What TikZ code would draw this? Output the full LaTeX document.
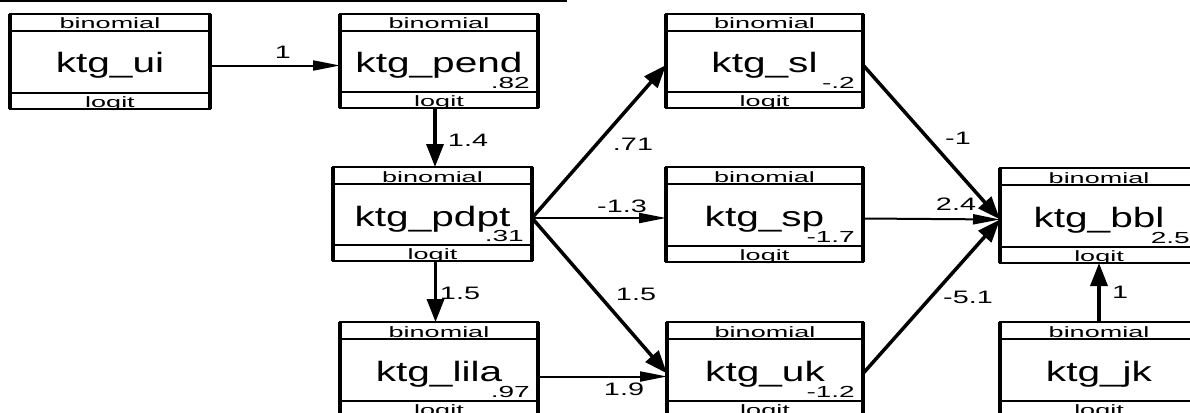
\documentclass[tikz,border=0pt]{standalone}
\usepackage{fontspec}
\setmainfont{Liberation Sans}
\newfontfamily\hdrfont{Liberation Sans}[FakeStretch=1.8]
\newfontfamily\icptfont{Liberation Sans}[FakeStretch=1.75]
\newfontfamily\bigfont{Liberation Sans}[FakeStretch=1.45]
\newfontfamily\coeffont{Liberation Sans}[FakeStretch=1.6]
\usetikzlibrary{arrows.meta,calc}

\tikzset{
  varbox/.style={rectangle, draw, line width=2.5pt, inner sep=0pt, outer sep=0pt, fill=white},
  boxside/.style={line width=4.5pt},
  divider/.style={line width=2pt},
  hdr/.style={inner sep=0pt, font=\hdrfont\fontsize{15}{17}\selectfont},
  bigname/.style={inner sep=0pt, font=\bigfont\fontsize{28}{30}\selectfont},
  icpt/.style={inner sep=0pt, font=\icptfont\fontsize{16}{18}\selectfont},
  coef/.style={inner sep=0pt, font=\coeffont\fontsize{18}{20}\selectfont},
  thinpath/.style={line width=2pt, -{Triangle[length=27pt,width=10pt]}},
  thickpath/.style={line width=3.5pt, -{Triangle[length=23pt,width=17pt]}},
}

% name, centre x, top y, width, height, variable, intercept
\newcommand\semvar[7]{%
  \node[varbox, minimum width=#4pt, minimum height=#5pt, anchor=north] (#1) at (#2,#3) {};
  \draw[boxside] (#1.north west) -- (#1.south west);
  \draw[boxside] (#1.north east) -- (#1.south east);
  \draw[divider] ([yshift=-17pt]#1.north west) -- ([yshift=-17pt]#1.north east);
  \draw[divider] ([yshift=16pt]#1.south west) -- ([yshift=16pt]#1.south east);
  \node[hdr, anchor=base] (#1-h) at ([yshift=-15pt]#1.north) {binomial};
  \node[hdr, anchor=base] (#1-f) at ([yshift=2pt]#1.south) {logit};
  \node[bigname, anchor=base] (#1-t) at ([yshift=-59pt]#1.north) {#6};
  \node[icpt, anchor=base east] (#1-i) at ([xshift=-8pt,yshift=20pt]#1.south east) {#7};
  \coordinate (#1-l) at ([yshift=-4pt]#1.west);
  \coordinate (#1-r) at ([yshift=-4pt]#1.east);
}

\begin{document}
\begin{tikzpicture}[x=1pt,y=-1pt]
\useasboundingbox (0,0) rectangle (1190,412);
\clip (0,0) rectangle (1190,412);
\fill[white] (0,0) rectangle (1190,412);

% rule along the top edge
\draw[line width=2pt] (0,1) -- (567,1);

% variables
\semvar{ui}{110}{14}{200}{95}{ktg\_ui}{}
\semvar{pend}{439}{14}{198}{94}{ktg\_pend}{.82}
\semvar{sl}{764.5}{14}{197}{94}{ktg\_sl}{-.2}
\semvar{pdpt}{432.5}{167}{199}{94}{ktg\_pdpt}{.31}
\semvar{sp}{764.5}{167}{197}{95}{ktg\_sp}{-1.7}
\semvar{bbl}{1099}{168}{198}{95}{ktg\_bbl}{2.5}
\semvar{lila}{439}{322}{198}{95}{ktg\_lila}{.97}
\semvar{uk}{765}{322}{196}{95}{ktg\_uk}{-1.2}
\semvar{jk}{1099}{322}{198}{95}{ktg\_jk}{}

% paths
\draw[thinpath] (ui-r) -- (ui-r -| pend.west);
\draw[thickpath] ([xshift=-4pt]pend.south) -- ([xshift=-4pt]pend.south |- pdpt.north);
\draw[thickpath] (pdpt-r) -- (sl-l);
\draw[thinpath] (pdpt-r) -- (pdpt-r -| sp.west);
\draw[thickpath] (pdpt-r) -- (uk-l);
\draw[thickpath] ([xshift=3pt]pdpt.south) -- ([xshift=3pt]pdpt.south |- lila.north);
\draw[thinpath] ([yshift=-3pt]lila-r) -- ([yshift=-3pt]lila-r -| uk.west);
\draw[thickpath] (sl-r) -- (bbl-l);
\draw[thinpath] (sp-r) -- (bbl-l);
\draw[thickpath] (uk-r) -- (bbl-l);
\draw[thickpath] (jk.north) -- (bbl.south);

% coefficients
\node[coef] (c-ui-pend) at (283,52) {1};
\node[coef] (c-pend-pdpt) at (468,140) {1.4};
\node[coef] (c-pdpt-sl) at (633,144) {.71};
\node[coef] (c-pdpt-sp) at (622,206) {-1.3};
\node[coef] (c-pdpt-lila) at (460,293) {1.5};
\node[coef] (c-pdpt-uk) at (636,294) {1.5};
\node[coef] (c-lila-uk) at (624,389) {1.9};
\node[coef] (c-sl-bbl) at (958,138) {-1};
\node[coef] (c-sp-bbl) at (956,204) {2.4};
\node[coef] (c-uk-bbl) at (968,297) {-5.1};
\node[coef] (c-jk-bbl) at (1120,292) {1};
\end{tikzpicture}
\end{document}
